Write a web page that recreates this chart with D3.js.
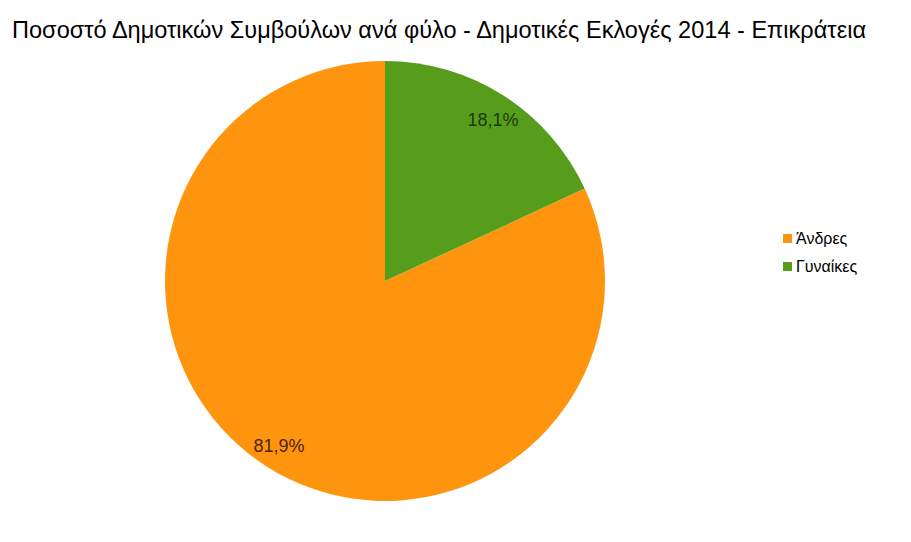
<!DOCTYPE html>
<html><head><meta charset="utf-8">
<script src="https://cdn.jsdelivr.net/npm/d3@7"></script>
<style>html,body{margin:0;padding:0;background:#fff;}</style>
</head><body>
<svg id="chart" width="911" height="542"></svg>
<script>
const categories = ["Άνδρες", "Γυναίκες"];
const values = [81.9, 18.1];
const labels = ["81,9%", "18,1%"];
const colors = ["#ff950e", "#579d1c"];
const labelColors = ["#4a2606", "#1c3a08"];
const title = "Ποσοστό Δημοτικών Συμβούλων ανά φύλο - Δημοτικές Εκλογές 2014 - Επικράτεια";

const svg = d3.select("#chart");
const cx = 385, cy = 281, r = 220;

svg.append("text").attr("x", 12).attr("y", 38)
  .attr("font-family", "Liberation Sans, Arial, sans-serif").attr("font-size", 24)
  .attr("fill", "#000").attr("textLength", 854).attr("lengthAdjust", "spacingAndGlyphs")
  .text(title);

const data = categories.map((c, i) => ({cat: c, v: values[i], lab: labels[i], col: colors[i], lc: labelColors[i]}));
// Άνδρες drawn counter-clockwise from 12 o'clock, then Γυναίκες
const pie = d3.pie().sort(null).value(d => d.v).startAngle(0).endAngle(-2 * Math.PI);
const arcs = pie(data);
const arc = d3.arc().innerRadius(0).outerRadius(r);
const labelArc = d3.arc().innerRadius(193).outerRadius(193);

const g = svg.append("g").attr("transform", `translate(${cx},${cy})`);
g.selectAll("path").data(arcs).join("path")
  .attr("d", arc).attr("fill", d => d.data.col);
g.selectAll("text").data(arcs).join("text")
  .attr("transform", d => { const c = labelArc.centroid(d); return `translate(${c[0] + (c[0] > 0 ? 4 : -2)},${c[1] + 2})`; })
  .attr("text-anchor", "middle").attr("dominant-baseline", "central")
  .attr("font-family", "Liberation Sans, Arial, sans-serif").attr("font-size", 18)
  .attr("fill", d => d.data.lc)
  .text(d => d.data.lab);

const lg = svg.append("g").attr("transform", "translate(783,234)");
const items = lg.selectAll("g").data(data).join("g")
  .attr("transform", (d, i) => `translate(0,${i * 28})`);
items.append("rect").attr("width", 9).attr("height", 9).attr("fill", d => d.col);
items.append("text").attr("x", 13).attr("y", 10)
  .attr("font-family", "Liberation Sans, Arial, sans-serif").attr("font-size", 16)
  .attr("fill", "#000").text(d => d.cat);
</script>
</body></html>
